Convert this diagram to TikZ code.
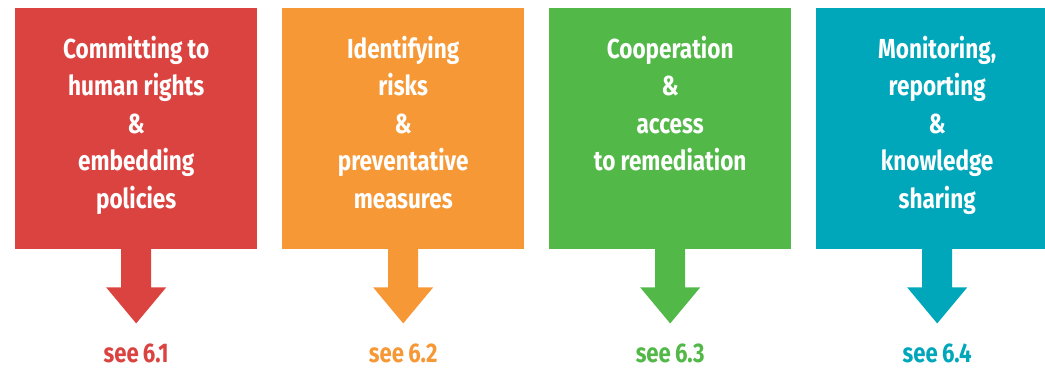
\documentclass[tikz,border=0pt]{standalone}
\usepackage{fontspec}
\setmainfont{Fira Sans}[FakeStretch=0.82, WordSpace=0.8]
\usetikzlibrary{calc}
\definecolor{cred}{RGB}{219,67,65}
\definecolor{corange}{RGB}{246,152,54}
\definecolor{cgreen}{RGB}{82,184,72}
\definecolor{cteal}{RGB}{0,167,187}
\tikzset{
  box/.style={draw=none, fill=#1, minimum width=242pt, minimum height=241pt, inner sep=0pt, anchor=north west},
  boxtext/.style={text=white, text width=240pt, align=center, inner sep=0pt, anchor=base,
    font=\fontsize{27.5}{37.5}\selectfont\bfseries},
  seelabel/.style={text=#1, inner sep=0pt, anchor=base, font=\fontsize{27}{33}\selectfont\bfseries},
}
\newcommand{\tightspace}{\spaceskip=0.19em\relax}
\begin{document}
\begin{tikzpicture}[x=1pt,y=1pt]
\useasboundingbox (0,0) rectangle (1045,368);
\clip (0,0) rectangle (1045,368);
\foreach \i/\c/\t/\s in {0/cred/{Committing to\\human rights\\\&\\embedding\\policies}/6.1,
                         1/corange/{Identifying\\risks\\\&\\preventative\\measures}/6.2,
                         2/cgreen/{Cooperation\\\&\\access\\to remediation}/6.3,
                         3/cteal/{Monitoring,\\reporting\\\&\\knowledge\\sharing}/6.4}{
  \node[box=\c] (b\i) at ({15+267*\i},360) {};
  \node[boxtext] (t\i) at ($(b\i.north)+(0,-50)$) {\tightspace\t};
  \fill[\c] ($(b\i.south)+(-15,0.5)$) -- ($(b\i.south)+(15,0.5)$) -- ($(b\i.south)+(15,-38)$)
     -- ($(b\i.south)+(30,-38)$) -- ($(b\i.south)+(0,-74)$) -- ($(b\i.south)+(-30,-38)$)
     -- ($(b\i.south)+(-15,-38)$) -- cycle;
  \node[seelabel=\c] (s\i) at ($(b\i.south)+(0,-113)$) {see \s};
}
\end{tikzpicture}
\end{document}
